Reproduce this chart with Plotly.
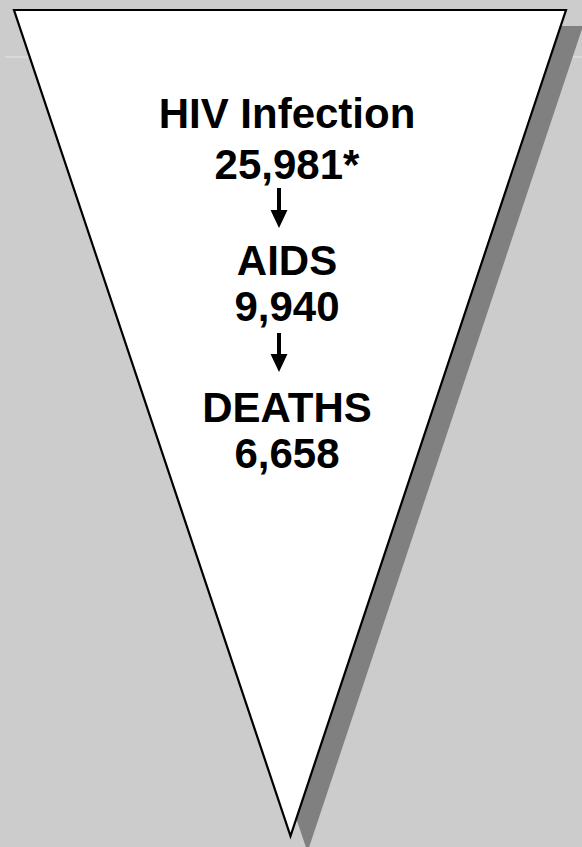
import plotly.graph_objects as go

# Data
stage_labels = ["HIV Infection", "AIDS", "DEATHS"]
stage_values = [25981, 9940, 6658]
value_suffix = ["*", "", ""]

W, H = 582, 847
BG = "#CCCCCC"
SHADOW = "#808080"

# layout positions (pixels)
cx = 287
label_y = [117.5, 264.5, 411]
value_y = [168.5, 310, 457.5]
arrow_x = 279
arrows = [(188, 228), (333, 372)]

tri = [(14, 10), (566, 10), (290.5, 836)]
sdx, sdy = 17, 16

def path(pts, dx=0, dy=0):
    return "M " + " L ".join(f"{x+dx},{y+dy}" for x, y in pts) + " Z"

shapes = [
    dict(type="line", x0=5, x1=582, y0=57, y1=57, line=dict(color="#E6E6E6", width=1), layer="below"),
    dict(type="path", path=path(tri, sdx, sdy), fillcolor=SHADOW, line=dict(width=0), layer="below"),
    dict(type="path", path=path(tri), fillcolor="white", line=dict(color="black", width=2.2), layer="below"),
]
for (y0, y1) in arrows:
    hh = 18
    shapes.append(dict(type="rect", x0=arrow_x - 2, x1=arrow_x + 2, y0=y0, y1=y1 - hh + 1,
                       fillcolor="black", line=dict(width=0)))
    shapes.append(dict(type="path",
                       path=f"M {arrow_x-8.5},{y1-hh} L {arrow_x+8.5},{y1-hh} L {arrow_x},{y1} Z",
                       fillcolor="black", line=dict(width=0)))

texts, xs, ys = [], [], []
for lab, val, suf, ly, vy in zip(stage_labels, stage_values, value_suffix, label_y, value_y):
    texts += [f"<b>{lab}</b>", f"<b>{val:,}{suf}</b>"]
    xs += [cx, cx]
    ys += [ly, vy]

fig = go.Figure(go.Scatter(x=xs, y=ys, mode="text", text=texts, textposition="middle center",
                           textfont=dict(family="Liberation Sans, Arial, sans-serif", size=42, color="black"),
                           hoverinfo="skip"))
fig.update_layout(
    width=W, height=H, autosize=False,
    margin=dict(l=0, r=0, t=0, b=0),
    paper_bgcolor=BG, plot_bgcolor=BG,
    showlegend=False,
    shapes=shapes,
    xaxis=dict(range=[0, W], visible=False, fixedrange=True),
    yaxis=dict(range=[H, 0], visible=False, fixedrange=True),
)
fig.write_html("out.html", config={"displayModeBar": False},
               post_script="document.body.style.margin='0';document.body.style.overflow='hidden';")
